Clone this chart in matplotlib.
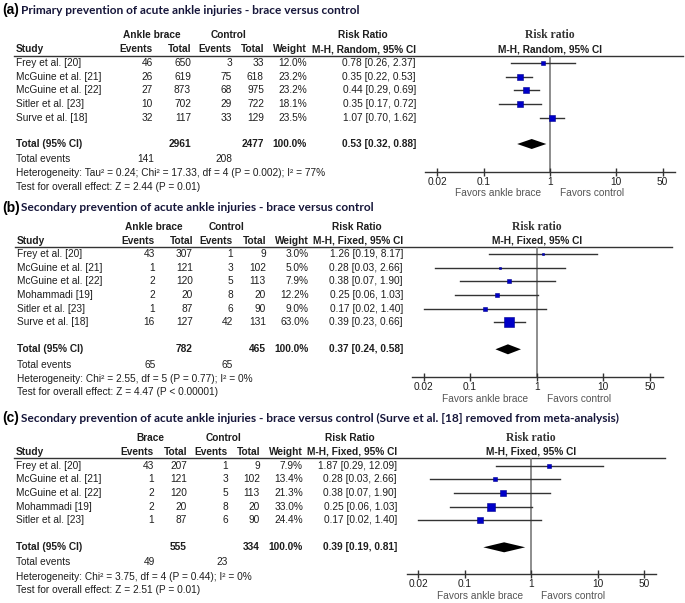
import numpy as np
import matplotlib
matplotlib.use('Agg')
import matplotlib.pyplot as plt

# ---- data -------------------------------------------------------------
studies_a = ["Frey et al. [20]", "McGuine et al. [21]", "McGuine et al. [22]",
             "Sitler et al. [23]", "Surve et al. [18]"]
ev_brace_a = [46, 26, 27, 10, 32]
n_brace_a = [650, 619, 873, 702, 117]
ev_ctrl_a = [3, 75, 68, 29, 33]
n_ctrl_a = [33, 618, 975, 722, 129]
weight_a = [12.0, 23.2, 23.2, 18.1, 23.5]
rr_a = [0.78, 0.35, 0.44, 0.35, 1.07]
lo_a = [0.26, 0.22, 0.29, 0.17, 0.70]
hi_a = [2.37, 0.53, 0.69, 0.72, 1.62]
total_a = [2961, 2477, 0.53, 0.32, 0.88]
events_a = [141, 208]

studies_b = ["Frey et al. [20]", "McGuine et al. [21]", "McGuine et al. [22]",
             "Mohammadi [19]", "Sitler et al. [23]", "Surve et al. [18]"]
ev_brace_b = [43, 1, 2, 2, 1, 16]
n_brace_b = [307, 121, 120, 20, 87, 127]
ev_ctrl_b = [1, 3, 5, 8, 6, 42]
n_ctrl_b = [9, 102, 113, 20, 90, 131]
weight_b = [3.0, 5.0, 7.9, 12.2, 9.0, 63.0]
rr_b = [1.26, 0.28, 0.38, 0.25, 0.17, 0.39]
lo_b = [0.19, 0.03, 0.07, 0.06, 0.02, 0.23]
hi_b = [8.17, 2.66, 1.90, 1.03, 1.40, 0.66]
total_b = [782, 465, 0.37, 0.24, 0.58]
events_b = [65, 65]

studies_c = ["Frey et al. [20]", "McGuine et al. [21]", "McGuine et al. [22]",
             "Mohammadi [19]", "Sitler et al. [23]"]
ev_brace_c = [43, 1, 2, 2, 1]
n_brace_c = [207, 121, 120, 20, 87]
ev_ctrl_c = [1, 3, 5, 8, 6]
n_ctrl_c = [9, 102, 113, 20, 90]
weight_c = [7.9, 13.4, 21.3, 33.0, 24.4]
rr_c = [1.87, 0.28, 0.38, 0.25, 0.17]
lo_c = [0.29, 0.03, 0.07, 0.06, 0.02]
hi_c = [12.09, 2.66, 1.90, 1.03, 1.40]
total_c = [555, 334, 0.39, 0.19, 0.81]
events_c = [49, 23]

titles = ["Primary prevention of acute ankle injuries - brace versus control",
          "Secondary prevention of acute ankle injuries - brace versus control",
          "Secondary prevention of acute ankle injuries - brace versus control "
          "(Surve et al. [18] removed from meta-analysis)"]
labels = ["(a)", "(b)", "(c)"]
groups = [["Ankle brace", "Control", "Risk Ratio"],
          ["Ankle brace", "Control", "Risk Ratio"],
          ["Brace", "Control", "Risk Ratio"]]
methods = ["M-H, Random, 95% CI", "M-H, Fixed, 95% CI", "M-H, Fixed, 95% CI"]
het_texts = ["Heterogeneity: Tau\u00b2 = 0.24; Chi\u00b2 = 17.33, df = 4 (P = 0.002); I\u00b2 = 77%",
             "Heterogeneity: Chi\u00b2 = 2.55, df = 5 (P = 0.77); I\u00b2 = 0%",
             "Heterogeneity: Chi\u00b2 = 3.75, df = 4 (P = 0.44); I\u00b2 = 0%"]
test_texts = ["Test for overall effect: Z = 2.44 (P = 0.01)",
              "Test for overall effect: Z = 4.47 (P < 0.00001)",
              "Test for overall effect: Z = 2.51 (P = 0.01)"]
tick_vals = [0.02, 0.1, 1, 10, 50]
tick_labels = ["0.02", "0.1", "1", "10", "50"]

# ---- layout (pixel units, figure is 685 x 603) ------------------------
W, H = 685, 603
layouts = [
    dict(title_y=10, grp_y=35, hdr_y=49, line_y=55.5, row0=62.7, dy=13.8,
         total_y=144, ev_y=158.5, het_y=172.5, test_y=186.5,
         axis_y=171.7, x1=550, dec=66.3, xl=425, xr=675, line_r=683,
         study_x=16, cols=[153, 191, 232, 264, 307, 416], gc=[152, 229, 362.5],
         fav_y=193),
    dict(title_y=207.7, grp_y=227.3, hdr_y=240.7, line_y=246.7, row0=254.3, dy=13.6,
         total_y=349.3, ev_y=365, het_y=378.5, test_y=392,
         axis_y=376.7, x1=536.7, dec=66.6, xl=412.3, xr=662.7, line_r=672,
         study_x=17, cols=[155, 193, 233, 266, 309, 403], gc=[154, 227, 356.5],
         fav_y=399),
    dict(title_y=418.3, grp_y=438.3, hdr_y=452, line_y=458.3, row0=465.7, dy=13.65,
         total_y=547.3, ev_y=562.3, het_y=576.7, test_y=590.3,
         axis_y=574.3, x1=531.3, dec=66.5, xl=406.7, xr=656, line_r=665,
         study_x=16, cols=[154, 187, 228, 260, 303, 397], gc=[150, 224, 350],
         fav_y=596),
]

panels = [
    (studies_a, ev_brace_a, n_brace_a, ev_ctrl_a, n_ctrl_a, weight_a, rr_a, lo_a, hi_a, total_a, events_a),
    (studies_b, ev_brace_b, n_brace_b, ev_ctrl_b, n_ctrl_b, weight_b, rr_b, lo_b, hi_b, total_b, events_b),
    (studies_c, ev_brace_c, n_brace_c, ev_ctrl_c, n_ctrl_c, weight_c, rr_c, lo_c, hi_c, total_c, events_c),
]

SANS = 'Liberation Sans'
FS = 7.3
TXT = '#1e1e1e'
SQ = '#0000c8'

fig = plt.figure(figsize=(W / 100, H / 100), dpi=100)
bg = fig.add_axes([0, 0, 1, 1])
bg.set_xlim(0, W)
bg.set_ylim(H, 0)
bg.axis('off')


def t(x, y, s, ha='left', bold=False, **kw):
    kw.setdefault('family', SANS)
    kw.setdefault('fontsize', FS)
    kw.setdefault('color', TXT)
    bg.text(x, y, s, ha=ha, va='center', fontweight='bold' if bold else 'normal', **kw)


for k, (p, L) in enumerate(zip(panels, layouts)):
    studies, evb, nb, evc, nc, wt, rr, lo, hi, tot, evs = p
    c = L['cols']

    # title
    t(2, L['title_y'], labels[k], bold=True, fontsize=10, color='black')
    t(21.5, L['title_y'], titles[k], bold=True, family='Lato', fontsize=8.55, color='#16163a')

    # headers
    for gx, g in zip(L['gc'], groups[k]):
        t(gx, L['grp_y'], g, ha='center', bold=True)
    t(L['study_x'], L['hdr_y'], "Study", bold=True)
    for cx, h in zip(c, ["Events", "Total", "Events", "Total", "Weight", methods[k]]):
        t(cx, L['hdr_y'], h, ha='right', bold=True)
    bg.plot([L['study_x'] - 2, L['line_r']], [L['line_y'], L['line_y']], color='#333333', lw=1)

    # forest header
    t(L['x1'], L['grp_y'], "Risk ratio", ha='center', bold=True,
      family='Liberation Serif', fontsize=8.4, color='#333333')
    t(L['x1'], L['hdr_y'], methods[k], ha='center', bold=True)

    rows = [L['row0'] + i * L['dy'] for i in range(len(studies))]
    for i, y in enumerate(rows):
        t(L['study_x'], y, studies[i])
        vals = [str(evb[i]), str(nb[i]), str(evc[i]), str(nc[i]), f"{wt[i]:.1f}%",
                f"{rr[i]:.2f} [{lo[i]:.2f}, {hi[i]:.2f}]"]
        for cx, v in zip(c, vals):
            t(cx, y, v, ha='right')

    # totals
    t(L['study_x'], L['total_y'], "Total (95% CI)", bold=True)
    t(c[1], L['total_y'], str(tot[0]), ha='right', bold=True)
    t(c[3], L['total_y'], str(tot[1]), ha='right', bold=True)
    t(c[4], L['total_y'], "100.0%", ha='right', bold=True)
    t(c[5], L['total_y'], f"{tot[2]:.2f} [{tot[3]:.2f}, {tot[4]:.2f}]", ha='right', bold=True)
    t(L['study_x'], L['ev_y'], "Total events")
    t(c[0] + 1, L['ev_y'], str(evs[0]), ha='right')
    t(c[2], L['ev_y'], str(evs[1]), ha='right')
    t(L['study_x'], L['het_y'], het_texts[k])
    t(L['study_x'], L['test_y'], test_texts[k])

    # forest plot axes
    ax = fig.add_axes([L['xl'] / W, 1 - L['axis_y'] / H,
                       (L['xr'] - L['xl']) / W, (L['axis_y'] - L['line_y']) / H])
    ax.patch.set_alpha(0)
    ax.set_xscale('log')
    ax.set_xlim(10 ** ((L['xl'] - L['x1']) / L['dec']), 10 ** ((L['xr'] - L['x1']) / L['dec']))
    ax.set_ylim(L['axis_y'], L['line_y'])
    for s in ['top', 'left', 'right']:
        ax.spines[s].set_visible(False)
    ax.spines['bottom'].set_color('#333333')
    ax.spines['bottom'].set_linewidth(1)
    ax.set_yticks([])
    ax.set_xticks(tick_vals)
    ax.set_xticklabels(tick_labels, family=SANS, fontsize=FS, color=TXT)
    ax.minorticks_off()
    ax.tick_params(axis='x', direction='inout', length=6, width=1, color='#333333', pad=0.5)
    ax.axvline(1, color='#7a7a7a', lw=1.2, zorder=1)

    for i, y in enumerate(rows):
        ax.plot([lo[i], hi[i]], [y, y], color='#333333', lw=1, zorder=2)
        side = 1.25 * np.sqrt(wt[i]) * 0.72
        ax.plot(rr[i], y, marker='s', markersize=side, color=SQ,
                markeredgecolor='#000090', markeredgewidth=0.4, zorder=3)

    dh = 5
    ty = L['total_y']
    ax.fill([tot[3], tot[2], tot[4], tot[2]], [ty, ty - dh, ty, ty + dh],
            color='black', zorder=3, lw=0)

    t(L['x1'] - 8.5, L['fav_y'], "Favors ankle brace", ha='right', color='#555555')
    t(L['x1'] + 10, L['fav_y'], "Favors control", ha='left', color='#555555')

fig.savefig('out.png', dpi=100)
